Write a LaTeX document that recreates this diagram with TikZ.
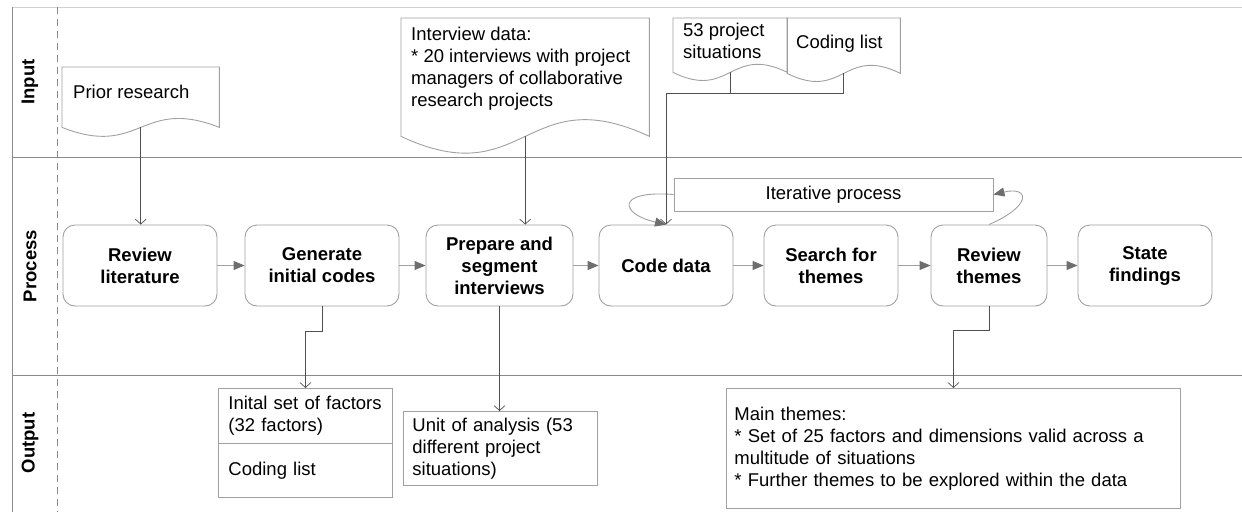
\documentclass[tikz,border=0pt]{standalone}
\usepackage{fontspec}
\setmainfont{Liberation Sans}
\usetikzlibrary{calc,arrows.meta}
\definecolor{boxc}{HTML}{A0A0A0}
\definecolor{lnc}{HTML}{505050}
\definecolor{arrc}{HTML}{6E6E6E}
\definecolor{lanec}{HTML}{8A8A8A}
\newcommand\docout[2]{\draw[draw=boxc, line width=0.9pt] (#1.north west) -- (#1.south west) .. controls ($(#1.south)+(0,#2)$) and ($(#1.south)+(0,-#2)$) .. (#1.south east) -- (#1.north east) -- cycle;}
\begin{document}
\begin{tikzpicture}[x=1pt,y=-1pt,
  every node/.style={font=\fontsize{18.5}{22}\selectfont, inner sep=0pt},
  stepbox/.style={draw=boxc, line width=0.9pt, rounded corners=12pt, align=center,
    font=\fontsize{18.5}{22}\selectfont\bfseries, minimum height=81pt},
  lanelabel/.style={rotate=90, font=\fontsize{18.5}{21.5}\selectfont\bfseries},
  docshape/.style={draw=none, anchor=north west},
  txt/.style={align=left, anchor=north west},
  outbox/.style={draw=boxc, line width=0.9pt, anchor=north west, align=left},
  conn/.style={draw=lnc, line width=0.7pt, -{Straight Barb[length=5pt,width=11pt]}},
  plain/.style={draw=lnc, line width=0.7pt},
  flow/.style={draw=boxc, line width=0.9pt, -{Triangle[length=11pt,width=9pt,color=arrc]}},
]
\useasboundingbox (0,0) rectangle (1242,512);

% lanes
\draw[draw=black!18, line width=0.8pt] (12,7) -- (1242,7);
\draw[lanec, line width=0.9pt] (12,7) -- (12,512);
\draw[lanec, line width=0.9pt] (12,157) -- (1242,157);
\draw[lanec, line width=0.9pt] (12,375) -- (1242,375);
\draw[lanec, line width=0.7pt, dash pattern=on 7pt off 5pt] (57,7) -- (57,512);
\node[lanelabel] (lin) at (30,82) {Input};
\node[lanelabel] (lproc) at (30,266) {Process};
\node[lanelabel] (lout) at (30,443) {Output};

% input documents
\node[docshape, minimum width=157pt, minimum height=60pt] (prior) at (62,67) {};
\docout{prior}{31}
\node[txt] (priort) at (73,85) {Prior research};

\node[docshape, minimum width=248pt, minimum height=118pt] (interview) at (401,18) {};
\docout{interview}{58}
\node[txt] (interviewt) at (411,27) {Interview data:\\{}* 20 interviews with project\\managers of collaborative\\research projects};

\node[docshape, minimum width=114pt, minimum height=54pt] (proj) at (673,18) {};
\docout{proj}{28}
\node[txt] (projt) at (683,23) {53 project\\situations};

\node[docshape, minimum width=113pt, minimum height=55pt] (codl) at (787,18) {};
\docout{codl}{28}
\node[txt] (codlt) at (796,35) {Coding list};

% process steps
\node[stepbox, minimum width=154pt] (revlit) at (140,265.5) {Review\\literature};
\node[stepbox, minimum width=154pt] (gen) at (322,265.5) {Generate\\initial codes};
\node[stepbox, minimum width=147pt] (prep) at (499.5,265.5) {Prepare and\\segment\\interviews};
\node[stepbox, minimum width=134pt] (code) at (666,265.5) {Code data};
\node[stepbox, minimum width=134pt] (search) at (831,265.5) {Search for\\themes};
\node[stepbox, minimum width=116pt] (revth) at (989,265.5) {Review\\themes};
\node[stepbox, minimum width=134pt] (state) at (1145,265.5) {State\\findings};

\node[draw=boxc, line width=0.9pt, minimum width=319pt, minimum height=33pt] (iter) at (833.5,194.5) {Iterative process};

% outputs
\node[outbox, minimum height=55pt, text width=154pt, inner xsep=10pt] (init1) at (218,388) {Inital set of factors\\(32 factors)};
\node[outbox, minimum height=54pt, text width=154pt, inner xsep=10pt] (init2) at (218,443) {Coding list};
\node[outbox, minimum height=74pt, text width=176pt, inner xsep=9pt] (unit) at (403,411) {Unit of analysis (53\\different project\\situations)};
\node[outbox, minimum height=120pt, text width=438pt, inner xsep=8pt] (main) at (726,388) {Main themes:\\{}* Set of 25 factors and dimensions valid across a\\multitude of situations\\{}* Further themes to be explored within the data};

% flow arrows
\draw[flow] (revlit) -- (gen);
\draw[flow] (gen) -- (prep);
\draw[flow] (prep) -- (code);
\draw[flow] (code) -- (search);
\draw[flow] (search) -- (revth);
\draw[flow] (revth) -- (state);

% iteration loops
\draw[flow] (iter.west) .. controls (615,190) and (620,214) .. (code.north);
\draw[flow] (revth.north) .. controls (1032,206) and (1030,186) .. (iter.east);

% input connectors
\coordinate (jy) at (0,93);
\draw[conn] (prior.south) -- (prior.south |- revlit.north);
\draw[conn] (interview.south) -- (interview.south |- prep.north);
\draw[plain] (proj.south) -- (proj.south |- jy);
\draw[conn] (codl.south) |- (code.north |- jy) -- (code.north);

% output connectors
\draw[conn] (gen.south) -- ++(0,25) -| (init1.north);
\draw[conn] (prep.south) -- (prep.south |- unit.north);
\draw[conn] (revth.south) -- ++(0,24) -| (main.north);
\end{tikzpicture}
\end{document}
